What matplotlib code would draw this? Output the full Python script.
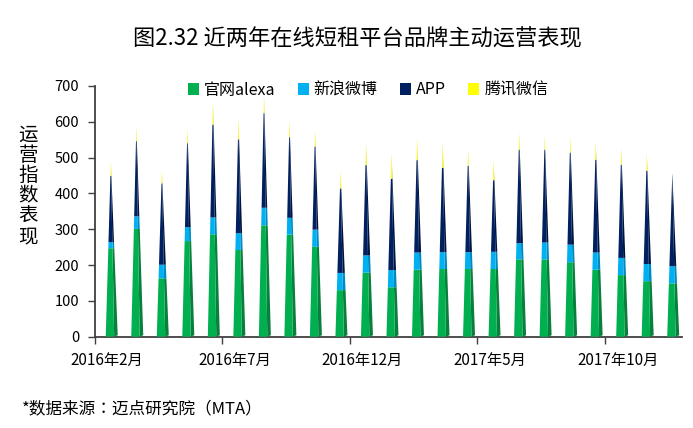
import matplotlib
matplotlib.use("Agg")
import matplotlib.pyplot as plt
from matplotlib.patches import Patch

plt.rcParams['font.family'] = ['Noto Sans CJK SC', 'DejaVu Sans']

# ---------------- data ----------------
months = ["2016年2月", "2016年3月", "2016年4月", "2016年5月", "2016年6月", "2016年7月",
          "2016年8月", "2016年9月", "2016年10月", "2016年11月", "2016年12月",
          "2017年1月", "2017年2月", "2017年3月", "2017年4月", "2017年5月", "2017年6月",
          "2017年7月", "2017年8月", "2017年9月", "2017年10月", "2017年11月", "2017年12月"]
series_names = ["官网alexa", "新浪微博", "APP", "腾讯微信"]
alexa = [247, 301, 163, 267, 286, 242, 311, 285, 251, 130, 179, 138,
         187, 189, 189, 189, 216, 216, 208, 187, 172, 155, 149]
weibo = [17, 35, 38, 39, 47, 47, 49, 47, 48, 48, 48, 48,
         48, 47, 47, 48, 45, 47, 49, 48, 48, 48, 48]
app = [185, 210, 227, 234, 259, 262, 264, 225, 232, 236, 252, 255,
       258, 235, 241, 200, 261, 259, 257, 259, 260, 260, 260]
weixin = [40, 41, 35, 42, 67, 59, 50, 47, 46, 49, 60, 71,
          60, 70, 46, 56, 48, 39, 45, 51, 47, 48, 0]
yticks = [0, 100, 200, 300, 400, 500, 600, 700]
label_every = 5

# ---------------- style ----------------
front_colors = ["#00B050", "#00B0F0", "#002060", "#FFFF00"]
side_colors = ["#08803C", "#0089BE", "#00143F", "#BDBD00"]
FL, FR, FS, FA = 0.44, 0.77, 0.91, 0.64   # front-left, front-right, side-right, apex (category units)
RISE = 4.0                                 # perspective rise of side bottom (value units)

fig = plt.figure(figsize=(6.93, 4.28), dpi=100)
ax = fig.add_axes([94.5 / 693, 1 - 336.7 / 428, (681.5 - 94.5) / 693, (336.7 - 86) / 428])


def draw_pyramid(ax, i, stacks):
    total = float(sum(stacks))
    xl, xr, xs, xa = i + FL, i + FR, i + FS, i + FA

    def edge(x0, y0, h):
        return x0 + (xa - x0) * (h - y0) / (total - y0)

    lo = 0.0
    for v, fc, sc in zip(stacks, front_colors, side_colors):
        hi = lo + v
        if v > 0:
            ax.fill([edge(xl, 0, lo), edge(xr, 0, lo), edge(xr, 0, hi), edge(xl, 0, hi)],
                    [lo, lo, hi, hi], color=fc, lw=0, zorder=3)
            sx = [edge(xr, 0, lo)]
            sy = [lo]
            lo_o = max(lo, RISE)
            if hi > lo_o:
                sx += [edge(xs, RISE, lo_o), edge(xs, RISE, hi)]
                sy += [lo_o, hi]
            sx += [edge(xr, 0, hi)]
            sy += [hi]
            ax.fill(sx, sy, color=sc, lw=0, zorder=2)
        lo = hi


for i in range(len(months)):
    draw_pyramid(ax, i, [alexa[i], weibo[i], app[i], weixin[i]])

ax.set_xlim(0, len(months))
ax.set_ylim(0, 700)
ax.set_yticks(yticks)
ax.set_yticklabels([str(t) for t in yticks], fontsize=10.5)

# boundary tick marks every 5 categories, labels centred on categories
ax.set_xticks(list(range(0, len(months), label_every)))
ax.set_xticklabels([])
ax.set_xticks([i + 0.5 for i in range(0, len(months), label_every)], minor=True)
ax.set_xticklabels([months[i] for i in range(0, len(months), label_every)], minor=True, fontsize=11)
ax.tick_params(axis='x', which='major', length=5, width=1, color='#404040', direction='out')
ax.tick_params(axis='x', which='minor', length=0, pad=11)
ax.tick_params(axis='y', length=5, width=1, color='#404040', direction='out', pad=6)

for s in ['top', 'right']:
    ax.spines[s].set_visible(False)
for s in ['left', 'bottom']:
    ax.spines[s].set_color('#404040')
    ax.spines[s].set_linewidth(1.3)

# title
fig.text(357 / 693, 1 - 39 / 428, "图2.32 近两年在线短租平台品牌主动运营表现",
         ha='center', va='center', fontsize=16)

# legend
handles = [Patch(facecolor=c, edgecolor='none') for c in front_colors]
fig.legend(handles, series_names, loc='center', bbox_to_anchor=(368 / 693, 1 - 90 / 428),
           ncol=4, frameon=False, fontsize=11.5, handlelength=0.7, handleheight=0.7,
           handletextpad=0.3, columnspacing=1.4)

# vertical stacked y label
fig.text(28 / 693, 1 - 186 / 428, "\n".join("运营指数表现"), ha='center', va='center',
         fontsize=14, linespacing=0.95)

# footnote (TC variant gives centred full-width punctuation)
fig.text(22 / 693, 1 - 409 / 428, "*数据来源：迈点研究院（MTA）", ha='left', va='center',
         fontsize=12, family=['Noto Sans CJK TC', 'DejaVu Sans'])

fig.savefig("out.png", dpi=100)
